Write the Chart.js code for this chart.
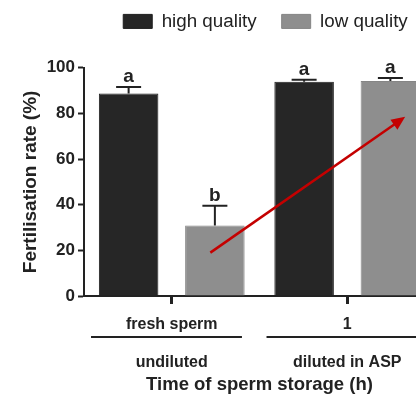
<!DOCTYPE html>
<html>
<head>
<meta charset="utf-8">
<script src="https://cdn.jsdelivr.net/npm/chart.js@4.4.1/dist/chart.umd.min.js"></script>
<style>
  html, body { margin: 0; padding: 0; background: #fff; overflow: hidden; }
  #wrap { width: 416px; height: 402px; overflow: hidden; position: relative; }
  canvas { position: absolute; left: 0; top: 0; }
</style>
</head>
<body>
<div id="wrap"><canvas id="chart" width="531" height="402"></canvas></div>
<script>
// Données
const storageTimes = ['fresh sperm', '1'];
const dilutionGroups = ['undiluted', 'diluted in ASP'];
const highQuality = [88.7, 93.9];
const lowQuality = [30.9, 94.2];
const highQualitySem = [2.9, 0.9];
const lowQualitySem = [8.7, 1.3];
const highLetters = ['a', 'a'];
const lowLetters = ['b', 'a'];
const yTicks = [0, 20, 40, 60, 80, 100];
// flèche rouge (index de catégorie, %)
const arrowFrom = [0.22, 19];
const arrowTo = [1.33, 78.5];

const ink = '#222222';
const font = '"Liberation Sans", Arial, sans-serif';

// place la légende comme sur la figure (le graphique est coupé à droite)
const legendPlace = {
    id: 'legendPlace',
    beforeLayout(chart) {
        const lg = chart.legend;
        if (lg && !lg._patched) {
            const fit = lg.fit;
            lg.fit = function () { fit.call(this); this.height += 27; };
            lg._patched = true;
        }
    },
    afterLayout(chart) {
        chart.legend.right += 96;
    }
};

// barres d'erreur, lettres, traits de groupes, flèche
const extras = {
    id: 'extras',
    afterDatasetsDraw(chart) {
        const ctx = chart.ctx;
        const x = chart.scales.x;
        const y = chart.scales.y;
        const sems = [highQualitySem, lowQualitySem];
        const letters = [highLetters, lowLetters];
        ctx.save();
        chart.data.datasets.forEach((ds, di) => {
            chart.getDatasetMeta(di).data.forEach((bar, i) => {
                const top = y.getPixelForValue(ds.data[i] + sems[di][i]);
                ctx.strokeStyle = ink;
                ctx.lineWidth = 2;
                ctx.beginPath();
                ctx.moveTo(bar.x, bar.y);
                ctx.lineTo(bar.x, top);
                ctx.moveTo(bar.x - 12.5, top);
                ctx.lineTo(bar.x + 12.5, top);
                ctx.stroke();
                ctx.fillStyle = ink;
                ctx.font = 'bold 19px ' + font;
                ctx.textAlign = 'center';
                ctx.textBaseline = 'alphabetic';
                ctx.fillText(letters[di][i], bar.x, top - 5);
            });
        });
        // traits sous les catégories
        ctx.strokeStyle = ink;
        ctx.lineWidth = 2;
        storageTimes.forEach((t, i) => {
            const ry = x.top + 41;
            ctx.beginPath();
            ctx.moveTo(x.getPixelForValue(i - 0.46), ry);
            ctx.lineTo(x.getPixelForValue(i + 0.4), ry);
            ctx.stroke();
        });
        // flèche
        const x1 = x.getPixelForValue(arrowFrom[0]), y1 = y.getPixelForValue(arrowFrom[1]);
        const x2 = x.getPixelForValue(arrowTo[0]), y2 = y.getPixelForValue(arrowTo[1]);
        const ang = Math.atan2(y2 - y1, x2 - x1);
        const head = 15;
        ctx.strokeStyle = '#c40000';
        ctx.fillStyle = '#c40000';
        ctx.lineWidth = 2.5;
        ctx.beginPath();
        ctx.moveTo(x1, y1);
        ctx.lineTo(x2 - head * 0.8 * Math.cos(ang), y2 - head * 0.8 * Math.sin(ang));
        ctx.stroke();
        ctx.beginPath();
        ctx.moveTo(x2, y2);
        ctx.lineTo(x2 - head * Math.cos(ang - 0.42), y2 - head * Math.sin(ang - 0.42));
        ctx.lineTo(x2 - head * Math.cos(ang + 0.42), y2 - head * Math.sin(ang + 0.42));
        ctx.closePath();
        ctx.fill();
        ctx.restore();
    }
};

new Chart(document.getElementById('chart'), {
    type: 'bar',
    data: {
        labels: storageTimes.map((t, i) => [t, dilutionGroups[i]]),
        datasets: [
            { label: 'high quality', data: highQuality, backgroundColor: '#262626', borderColor: '#1e1e1e', borderWidth: 1 },
            { label: 'low quality', data: lowQuality, backgroundColor: '#8e8e8e', borderColor: '#858585', borderWidth: 1 }
        ]
    },
    options: {
        responsive: false,
        animation: false,
        categoryPercentage: 0.983,
        barPercentage: 0.69,
        layout: { padding: { top: -13, right: 96, left: 0, bottom: 0 } },
        plugins: {
            tooltip: { enabled: false },
            legend: {
                position: 'top',
                labels: {
                    boxWidth: 29,
                    boxHeight: 14,
                    padding: 25,
                    color: ink,
                    font: { family: font, size: 18.8 }
                }
            }
        },
        scales: {
            x: {
                afterFit(scale) { scale.height = 106; },
                grid: { offset: false, drawOnChartArea: false, tickLength: 8, tickWidth: 3, color: ink },
                border: { width: 2, color: ink },
                ticks: {
                    color: ink,
                    padding: 2,
                    maxRotation: 0,
                    font: { family: font, size: 16, weight: 'bold', lineHeight: 2.35 }
                },
                title: {
                    display: true,
                    text: 'Time of sperm storage (h)',
                    color: ink,
                    padding: { top: 0, bottom: 6 },
                    font: { family: font, size: 18.5, weight: 'bold' }
                }
            },
            y: {
                min: 0,
                max: 100,
                afterFit(scale) { scale.width = 84; },
                afterBuildTicks(scale) { scale.ticks = yTicks.map(v => ({ value: v })); },
                grid: { drawOnChartArea: false, tickLength: 6, tickWidth: 2, color: ink },
                border: { width: 2, color: ink },
                ticks: {
                    color: ink,
                    padding: 3,
                    font: { family: font, size: 17, weight: 'bold' }
                },
                title: {
                    display: true,
                    text: 'Fertilisation rate (%)',
                    color: ink,
                    padding: { top: 19, bottom: 0 },
                    font: { family: font, size: 19, weight: 'bold' }
                }
            }
        }
    },
    plugins: [legendPlace, extras]
});
</script>
</body>
</html>
